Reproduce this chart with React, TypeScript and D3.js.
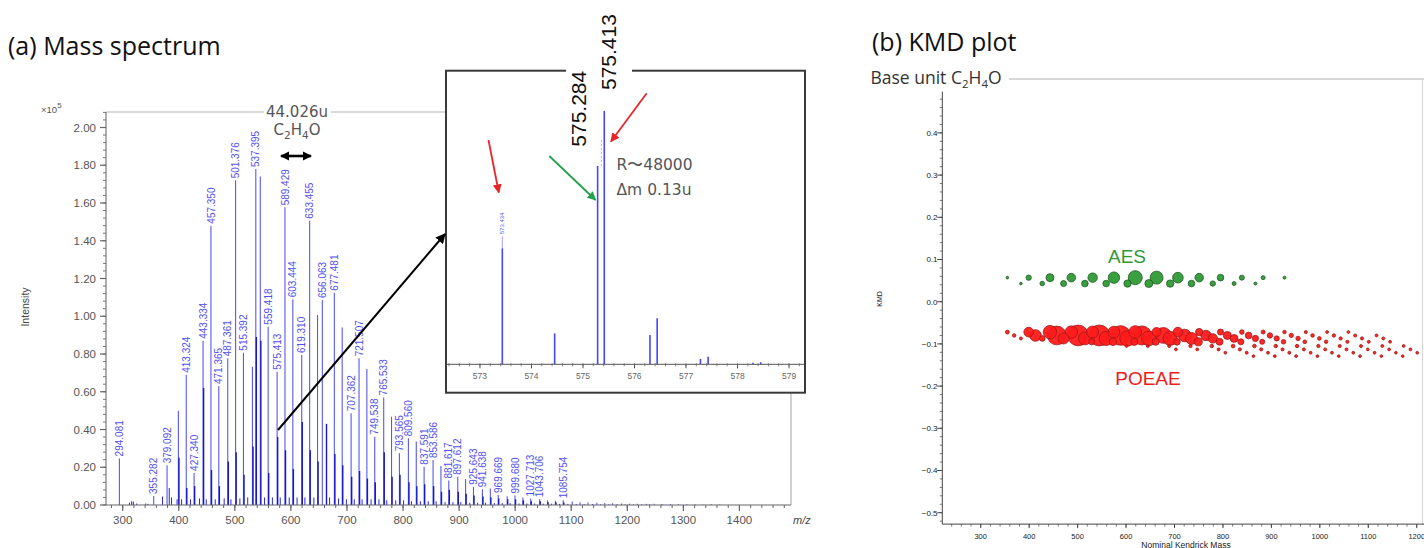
import React from "react";
import * as d3 from "d3";

const W = 1424;
const H = 548;

// ---------- (a) mass spectrum ----------
const labelledMz = [
  "294.081", "355.282", "379.092", "413.324", "427.340", "443.334", "457.350", "471.365", "487.361", "501.376",
  "515.392", "537.395", "559.418", "575.413", "589.429", "603.444", "619.310", "633.455", "656.063", "677.481",
  "707.362", "721.507", "749.538", "765.533", "793.565", "809.560", "837.591", "853.586", "881.617", "897.612",
  "925.643", "941.638", "969.669", "999.680", "1027.713", "1043.706", "1085.754",
];
const labelledInt = [
  0.247, 0.048, 0.21, 0.69, 0.17, 0.87, 1.48, 0.63, 0.777, 1.72,
  0.807, 1.78, 0.945, 0.706, 1.577, 1.09, 0.795, 1.506, 1.086, 1.125,
  0.486, 0.777, 0.362, 0.57, 0.274, 0.353, 0.203, 0.238, 0.13, 0.15,
  0.097, 0.083, 0.053, 0.05, 0.035, 0.03, 0.025,
];
const otherMz = [
  399.3, 531.4, 545.4, 647.5, 691.5, 735.5, 779.5, 823.6, 867.6, 911.6, 955.7, 985.7, 1013.7, 1057.7, 1071.7,
  1101.8, 1115.8, 1129.8, 1145.8, 1159.8, 1173.8, 1189.9, 1203.9, 1217.9, 1233.9, 1247.9, 1262, 1277, 1291, 1306,
  1321, 1335, 1350, 1365,
];
const otherInt = [
  0.5, 0.733, 1.74, 1.007, 0.94, 0.72, 0.468, 0.336, 0.207, 0.138, 0.088, 0.047, 0.04, 0.025, 0.022,
  0.018, 0.015, 0.013, 0.012, 0.01, 0.009, 0.008, 0.007, 0.007, 0.006, 0.006, 0.005, 0.005, 0.004, 0.004,
  0.004, 0.003, 0.004, 0.003,
];
// darker isotope / neighbour peaks sitting at the foot of the main lines
const isoMz = [
  400.3, 414.3, 428.3, 444.3, 458.4, 472.4, 488.4, 502.4, 516.4, 532.4, 538.4, 546.4, 560.4, 576.4, 590.4,
  604.4, 620.3, 634.5, 648.5, 663.5, 678.5, 692.5, 708.4, 722.5, 736.5, 750.5, 766.5, 780.5, 794.6, 810.6,
  824.6, 838.6, 854.6, 868.6, 882.6, 898.6, 912.6, 926.6, 942.6, 956.7, 970.7, 986.7, 1000.7, 1014.7, 1028.7,
  1044.7, 1058.7, 1072.7, 1086.8,
];
const isoInt = [
  0.25, 0.09, 0.1, 0.62, 0.185, 0.1, 0.23, 0.28, 0.16, 0.31, 0.89, 0.87, 0.17, 0.36, 0.29,
  0.19, 0.44, 0.29, 0.23, 0.43, 0.27, 0.21, 0.15, 0.18, 0.14, 0.12, 0.28, 0.15, 0.16, 0.12,
  0.1, 0.11, 0.1, 0.07, 0.08, 0.07, 0.06, 0.05, 0.045, 0.04, 0.035, 0.03, 0.03, 0.025, 0.02,
  0.02, 0.015, 0.015, 0.013,
];
const grassMz = [
  312, 316, 319, 325, 341, 345, 371, 383, 387, 397, 405, 421, 437, 449, 465, 481, 493, 509, 523, 553,
  567, 581, 597, 611, 625, 641, 669, 685, 699, 713, 727, 743, 757, 771, 787, 801, 815, 831, 845, 859,
  875, 889, 903, 919, 933, 947, 963, 977, 991, 1007, 1021, 1035, 1050, 1065, 1079, 1094, 1109, 1123, 1138, 1152,
  1167, 1182, 1196, 1211, 1226, 1240,
];
const grassInt = [
  0.012, 0.02, 0.018, 0.008, 0.008, 0.006, 0.045, 0.09, 0.04, 0.03, 0.03, 0.03, 0.035, 0.03, 0.03, 0.035, 0.03, 0.035, 0.04, 0.04,
  0.04, 0.04, 0.04, 0.04, 0.04, 0.04, 0.04, 0.035, 0.03, 0.03, 0.03, 0.03, 0.03, 0.025, 0.025, 0.025, 0.02, 0.02, 0.02, 0.02,
  0.015, 0.015, 0.015, 0.012, 0.012, 0.012, 0.01, 0.01, 0.01, 0.008, 0.008, 0.008, 0.007, 0.007, 0.006, 0.006, 0.005, 0.005, 0.005, 0.004,
  0.004, 0.004, 0.003, 0.003, 0.003, 0.003,
];
const specXTicks = [300, 400, 500, 600, 700, 800, 900, 1000, 1100, 1200, 1300, 1400];
const specYTicks = [0, 0.2, 0.4, 0.6, 0.8, 1.0, 1.2, 1.4, 1.6, 1.8, 2.0];

// ---------- zoomed inset around m/z 575 ----------
const insetMz = [573.434, 574.45, 575.284, 575.413, 576.3, 576.44, 577.28, 577.43, 578.3, 578.45];
const insetInt = [45.8, 12.2, 78.3, 100, 11.6, 18.2, 2.1, 3.0, 0.6, 0.8];
const insetTicks = [573, 574, 575, 576, 577, 578, 579];

// ---------- (b) KMD plot ----------
const kmdXTicks = [300, 400, 500, 600, 700, 800, 900, 1000, 1100, 1200];
const kmdYTicks = [-0.5, -0.4, -0.3, -0.2, -0.1, 0.0, 0.1, 0.2, 0.3, 0.4];

const aesKmd = [0.057, 0.043];
const aesMass = [
  [355, 399, 443, 487, 531, 575, 619, 663, 707, 751, 795, 839, 883, 927],
  [383, 427, 471, 515, 559, 603, 647, 691, 735, 779, 823, 867],
];
const aesAbund = [
  [0.005, 0.15, 0.35, 0.4, 0.475, 0.665, 0.93, 0.82, 0.59, 0.4, 0.24, 0.13, 0.067, 0.018],
  [0.005, 0.1, 0.195, 0.24, 0.24, 0.3, 0.35, 0.3, 0.24, 0.15, 0.067, 0.018],
];

const poeaeKmd = [-0.072, -0.08, -0.087, -0.095, -0.105, -0.113, -0.121, -0.129];
const poeaeMass = [
  [355, 399, 443, 487, 531, 575, 619, 663, 707, 751, 795, 839, 883, 927, 971, 1015, 1059],
  [369, 413, 457, 501, 545, 589, 633, 677, 721, 765, 809, 853, 897, 941, 985, 1029, 1073, 1117],
  [383, 427, 471, 515, 559, 603, 647, 691, 735, 779, 823, 867, 911, 955, 999, 1043, 1087, 1131],
  [529, 573, 617, 661, 705, 749, 793, 837, 881, 925, 969, 1013, 1057, 1101, 1145],
  [601, 645, 689, 733, 777, 821, 865, 909, 953, 997, 1041, 1085, 1129, 1173],
  [703, 747, 791, 835, 879, 923, 967, 1011, 1055, 1099, 1143, 1187],
  [805, 849, 893, 937, 981, 1025, 1069, 1113, 1157, 1201],
  [863, 907, 951, 995, 1039, 1083, 1127, 1171],
];
const poeaeAbund = [
  [0.06, 0.5, 0.87, 0.78, 0.73, 0.71, 0.8, 0.45, 0.49, 0.3, 0.2, 0.1, 0.067, 0.04, 0.025, 0.015, 0.01],
  [0.04, 0.69, 1.48, 1.72, 1.74, 1.58, 1.51, 1.13, 0.78, 0.57, 0.35, 0.24, 0.15, 0.083, 0.047, 0.035, 0.022, 0.015],
  [0.02, 0.17, 0.63, 0.81, 0.945, 1.09, 1.0, 0.94, 0.72, 0.47, 0.34, 0.21, 0.138, 0.088, 0.05, 0.03, 0.025, 0.015],
  [0.2, 0.32, 0.3, 0.28, 0.25, 0.36, 0.27, 0.2, 0.13, 0.097, 0.053, 0.04, 0.025, 0.018, 0.012],
  [0.01, 0.015, 0.02, 0.03, 0.04, 0.05, 0.045, 0.04, 0.035, 0.03, 0.025, 0.02, 0.015, 0.01],
  [0.01, 0.015, 0.02, 0.025, 0.025, 0.02, 0.02, 0.018, 0.015, 0.012, 0.01, 0.01],
  [0.01, 0.015, 0.015, 0.015, 0.012, 0.012, 0.01, 0.01, 0.008, 0.008],
  [0.008, 0.01, 0.01, 0.01, 0.008, 0.008, 0.006, 0.006],
];

const fSans = "'Liberation Sans', Arial, sans-serif";
const fDeja = "'DejaVu Sans', Verdana, sans-serif";
const fTitle = "'Open Sans', sans-serif";

function Markers() {
  const mk = (id: string, color: string, w: number) => (
    <marker id={id} viewBox="0 0 10 10" refX="9" refY="5" markerWidth={w} markerHeight={w} orient="auto-start-reverse">
      <path d="M0,0 L10,5 L0,10 z" fill={color} />
    </marker>
  );
  return (
    <defs>
      {mk("ahBlack", "#000", 5)}
      {mk("ahDouble", "#000", 3.6)}
      {mk("ahRed", "#e8262a", 5)}
      {mk("ahGreen", "#22a24a", 5)}
    </defs>
  );
}

function Spectrum() {
  const sx = d3.scaleLinear().domain([270.2, 1492]).range([106, 791]);
  const sy = d3.scaleLinear().domain([0, 2]).range([505, 127.5]);
  const y0 = sy(0);
  const minorX = d3.range(280, 1481, 20);
  const minorY = d3.range(0, 2.081, 0.04);
  const fmt = d3.format(".2f");
  return (
    <g>
      {/* frame */}
      <line x1={106} x2={264} y1={112} y2={112} stroke="#b4b4b4" strokeWidth={1.2} />
      <line x1={331} x2={791} y1={112} y2={112} stroke="#b4b4b4" strokeWidth={1.2} />
      <line x1={791} x2={791} y1={112} y2={y0} stroke="#b4b4b4" strokeWidth={1.2} />

      {/* peaks */}
      {grassMz.map((m, i) => (
        <line key={"g" + i} x1={sx(m)} x2={sx(m)} y1={y0} y2={sy(grassInt[i])} stroke="#2a2ad0" strokeWidth={1} />
      ))}
      {otherMz.map((m, i) => (
        <line key={"o" + i} x1={sx(m)} x2={sx(m)} y1={y0} y2={sy(otherInt[i])} stroke="#5858ef" strokeWidth={1.1} />
      ))}
      {labelledMz.map((m, i) => (
        <line key={"l" + i} x1={sx(+m)} x2={sx(+m)} y1={y0} y2={sy(labelledInt[i])} stroke="#5858ef" strokeWidth={1.1} />
      ))}
      {isoMz.map((m, i) => (
        <line key={"i" + i} x1={sx(m)} x2={sx(m)} y1={y0} y2={sy(isoInt[i])} stroke="#1818c4" strokeWidth={1.4} />
      ))}
      {labelledMz.map((m, i) => (
        <text
          key={"t" + i}
          transform={`translate(${sx(+m)},${sy(labelledInt[i]) - 2}) rotate(-90)`}
          dy="0.36em"
          fontFamily={fSans}
          fontSize={10}
          fill="#5050f2"
        >
          {m}
        </text>
      ))}

      {/* y axis */}
      <line x1={106} x2={106} y1={112} y2={y0} stroke="#777" strokeWidth={1.2} />
      {minorY.map((v, i) => (
        <line key={"my" + i} x1={103} x2={106} y1={sy(v)} y2={sy(v)} stroke="#777" />
      ))}
      {specYTicks.map((v) => (
        <g key={"yt" + v}>
          <line x1={100} x2={106} y1={sy(v)} y2={sy(v)} stroke="#666" strokeWidth={1.2} />
          <text x={96} y={sy(v)} dy="0.36em" textAnchor="end" fontFamily={fSans} fontSize={11.5} fill="#555">
            {fmt(v)}
          </text>
        </g>
      ))}
      <text x={41} y={113} fontFamily={fSans} fontSize={9.5} fill="#555">
        ×10<tspan dy={-5} fontSize={8}>5</tspan>
      </text>
      <text transform="translate(29,307) rotate(-90)" textAnchor="middle" fontFamily={fSans} fontSize={10.5} fill="#444">
        Intensity
      </text>

      {/* x axis */}
      <line x1={106} x2={791} y1={y0} y2={y0} stroke="#666" strokeWidth={1.2} />
      {minorX.map((v) => (
        <line key={"mx" + v} x1={sx(v)} x2={sx(v)} y1={y0} y2={y0 + 3} stroke="#666" />
      ))}
      {specXTicks.map((v) => (
        <g key={"xt" + v}>
          <line x1={sx(v)} x2={sx(v)} y1={y0} y2={y0 + 6} stroke="#666" strokeWidth={1.2} />
          <text x={sx(v)} y={523.5} textAnchor="middle" fontFamily={fSans} fontSize={11.5} fill="#555">
            {v}
          </text>
        </g>
      ))}
      <text x={793} y={524} fontFamily={fSans} fontSize={11} fontStyle="italic" fill="#444">
        m/z
      </text>

      {/* repeat unit annotation */}
      <text x={297} y={117} textAnchor="middle" fontFamily={fDeja} fontSize={15} fill="#555">
        44.026u
      </text>
      <text x={297} y={135} textAnchor="middle" fontFamily={fDeja} fontSize={15} fill="#555">
        C<tspan dy={4} fontSize={10.5}>2</tspan>
        <tspan dy={-4}>H</tspan>
        <tspan dy={4} fontSize={10.5}>4</tspan>
        <tspan dy={-4}>O</tspan>
      </text>
      <line
        x1={281}
        x2={311}
        y1={156}
        y2={156}
        stroke="#000"
        strokeWidth={2.6}
        markerStart="url(#ahDouble)"
        markerEnd="url(#ahDouble)"
      />
    </g>
  );
}

function Inset() {
  const ix = d3.scaleLinear().domain([572.36, 579.3]).range([447, 804.5]);
  const iy = d3.scaleLinear().domain([0, 100]).range([364.3, 111]);
  const b = iy(0);
  const minor = d3.range(572.4, 579.25, 0.2);
  return (
    <g>
      <rect x={446} y={70.7} width={359} height={322} fill="#fff" stroke="#3a3a3a" strokeWidth={2} />
      {insetMz.map((m, i) => (
        <line key={"p" + i} x1={ix(m)} x2={ix(m)} y1={b} y2={iy(insetInt[i])} stroke="#4646f2" strokeWidth={1.6} />
      ))}
      <line x1={447} x2={804.5} y1={b} y2={b} stroke="#555" strokeWidth={1} />
      {minor.map((v, i) => (
        <line key={"m" + i} x1={ix(v)} x2={ix(v)} y1={b - 1} y2={b + 2} stroke="#666" strokeWidth={0.8} />
      ))}
      {insetTicks.map((v) => (
        <g key={"t" + v}>
          <line x1={ix(v)} x2={ix(v)} y1={b} y2={b + 4} stroke="#555" />
          <text x={ix(v)} y={379} textAnchor="middle" fontFamily={fSans} fontSize={8.5} fill="#666">
            {v}
          </text>
        </g>
      ))}
      {/* small peak label */}
      <text
        transform={`translate(${ix(insetMz[0])},${iy(insetInt[0]) - 14}) rotate(-90)`}
        dy="0.36em"
        fontFamily={fSans}
        fontSize={6}
        fill="#5a5af0"
      >
        {insetMz[0].toFixed(3)}
      </text>
      <line x1={ix(insetMz[0])} x2={ix(insetMz[0])} y1={iy(insetInt[0]) - 12} y2={iy(insetInt[0])} stroke="#8a8af5" strokeWidth={0.8} />

      {/* big labels for the resolved doublet */}
      <rect x={566} y={62} width={66} height={14} fill="#fff" />
      <text transform={`translate(${ix(insetMz[2]) - 19},146.7) rotate(-90)`} dy="0.36em" fontFamily={fSans} fontSize={21} fill="#111">
        {insetMz[2].toFixed(3)}
      </text>
      <text transform={`translate(${ix(insetMz[3]) + 4},90) rotate(-90)`} dy="0.36em" fontFamily={fSans} fontSize={21} fill="#111">
        {insetMz[3].toFixed(3)}
      </text>
      <line x1={ix(insetMz[3]) - 3} x2={ix(insetMz[3]) - 3} y1={140} y2={166} stroke="#aab" strokeWidth={0.8} strokeDasharray="2,2" />

      <text x={616.5} y={170} fontFamily={fDeja} fontSize={15.5} fill="#555">
        R〜48000
      </text>
      <text x={616.5} y={195} fontFamily={fDeja} fontSize={15.5} fill="#555">
        Δm 0.13u
      </text>

      {/* pointer arrows */}
      <line x1={488.5} y1={140} x2={498.8} y2={192.5} stroke="#e8262a" strokeWidth={1.8} markerEnd="url(#ahRed)" />
      <line x1={646.7} y1={93.3} x2={611} y2={141.5} stroke="#e8262a" strokeWidth={1.8} markerEnd="url(#ahRed)" />
      <line x1={549.3} y1={156} x2={595.5} y2={200} stroke="#22a24a" strokeWidth={1.8} markerEnd="url(#ahGreen)" />
    </g>
  );
}

function KmdPlot() {
  const kx = d3.scaleLinear().domain([220.7, 1215]).range([942.3, 1424]);
  const ky = d3.scaleLinear().domain([-0.527, 0.5]).range([524.1, 90.7]);
  const rs = d3.scalePow().exponent(0.75).domain([0, 1.75]).range([1.2, 10.5]);
  const fmt = d3.format(".1f");

  type Pt = { m: number; k: number; a: number; g: string };
  const pts: Pt[] = [];
  aesMass.forEach((row, r) => row.forEach((m, i) => pts.push({ m, k: aesKmd[r], a: aesAbund[r][i], g: "aes" })));
  poeaeMass.forEach((row, r) => row.forEach((m, i) => pts.push({ m, k: poeaeKmd[r], a: poeaeAbund[r][i], g: "poeae" })));
  pts.sort((p, q) => q.a - p.a);

  const ax = 942.3;
  const ay = 524.1;
  const minorY = d3.range(-0.52, 0.5, 0.02);
  const minorX = d3.range(240, 1215, 20);
  return (
    <g>
      {/* frame */}
      <line x1={1009} x2={1424} y1={79} y2={79} stroke="#b0b0b0" strokeWidth={1.2} />
      <line x1={1422.5} x2={1422.5} y1={79} y2={ay} stroke="#d4d4d4" strokeWidth={1} />

      {/* axes */}
      <line x1={ax} x2={ax} y1={91.5} y2={ay} stroke="#444" strokeWidth={1} />
      {minorY.map((v, i) => (
        <line key={"my" + i} x1={ax - 2.5} x2={ax} y1={ky(v)} y2={ky(v)} stroke="#555" strokeWidth={0.8} />
      ))}
      {kmdYTicks.map((v) => (
        <g key={"yt" + v}>
          <line x1={ax - 5} x2={ax} y1={ky(v)} y2={ky(v)} stroke="#444" />
          <text x={937.5} y={ky(v)} dy="0.36em" textAnchor="end" fontFamily={fSans} fontSize={8} fill="#222">
            {fmt(v)}
          </text>
        </g>
      ))}
      <line x1={ax} x2={1424} y1={ay} y2={ay} stroke="#444" strokeWidth={1} />
      {minorX.map((v) => (
        <line key={"mx" + v} x1={kx(v)} x2={kx(v)} y1={ay} y2={ay + 2.5} stroke="#555" strokeWidth={0.8} />
      ))}
      {kmdXTicks.map((v) => (
        <g key={"xt" + v}>
          <line x1={kx(v)} x2={kx(v)} y1={ay} y2={ay + 4} stroke="#444" />
          <text x={kx(v)} y={538.5} textAnchor="middle" fontFamily={fSans} fontSize={7.5} fill="#222">
            {v}
          </text>
        </g>
      ))}
      <text x={1186} y={547.5} textAnchor="middle" fontFamily={fSans} fontSize={8.5} fill="#222">
        Nominal Kendrick Mass
      </text>
      <text transform="translate(882,299) rotate(-90)" textAnchor="middle" fontFamily={fSans} fontSize={7} fill="#222">
        KMD
      </text>

      {/* bubbles */}
      {pts.map((p, i) => (
        <circle
          key={i}
          cx={kx(p.m)}
          cy={ky(p.k)}
          r={rs(p.a)}
          fill={p.g === "aes" ? "#2f9a35" : "#ff1a1a"}
          fillOpacity={0.95}
          stroke={p.g === "aes" ? "#1d5c22" : "#a01818"}
          strokeWidth={0.8}
        />
      ))}

      <text x={1127} y={263} textAnchor="middle" fontFamily={fSans} fontSize={19} fill="#2f9a35">
        AES
      </text>
      <text x={1148} y={385} textAnchor="middle" fontFamily={fSans} fontSize={19} fill="#ee1c1c">
        POEAE
      </text>

      {/* base unit caption */}
      <text x={870.5} y={84} fontFamily={fTitle} fontSize={17.5} fill="#333">
        Base unit C<tspan dy={4} fontSize={11.5}>2</tspan>
        <tspan dy={-4}>H</tspan>
        <tspan dy={4} fontSize={11.5}>4</tspan>
        <tspan dy={-4}>O</tspan>
      </text>
    </g>
  );
}

export default function App() {
  return (
    <div style={{ position: "absolute", left: 0, top: 0 }}>
      <svg width={W} height={H} style={{ display: "block", background: "#fff" }}>
        <Markers />
        <rect x={0} y={0} width={W} height={H} fill="#fff" />
        <text x={8} y={55} fontFamily={fTitle} fontSize={25} fill="#111">
          (a) Mass spectrum
        </text>
        <text x={872} y={51} fontFamily={fTitle} fontSize={25} fill="#111">
          (b) KMD plot
        </text>
        <Spectrum />
        <Inset />
        <line x1={278} y1={430} x2={445} y2={234} stroke="#000" strokeWidth={2} markerEnd="url(#ahBlack)" />
        <KmdPlot />
      </svg>
    </div>
  );
}
